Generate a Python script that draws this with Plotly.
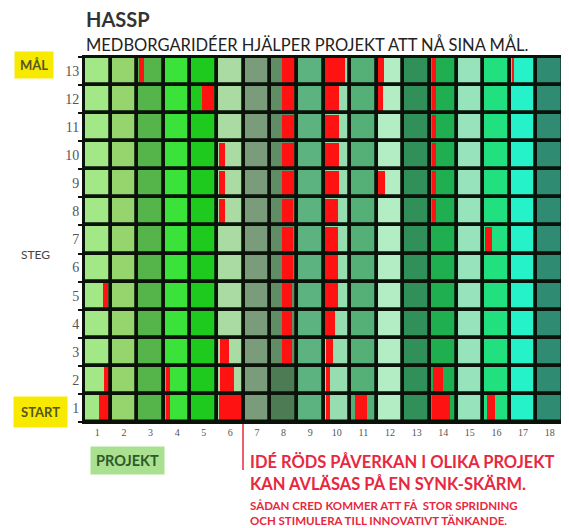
import plotly.graph_objects as go

# ---------------- data ----------------
projects = list(range(1, 19))
steps = list(range(1, 14))
project_labels = [str(p) for p in projects]
step_labels = [str(s) for s in steps]

project_colors = ["#a3e887", "#96d46e", "#55b54a", "#3ae23a", "#1fca1f", "#a9dba2",
                  "#7a9c7a", "#608c66", "#5cb380", "#96deb0", "#55b078", "#b3edc4",
                  "#318f5a", "#1fae50", "#97e3bb", "#20e07f", "#25f2c9", "#2f8b72"]
override_project = [8, 8]
override_step = [1, 2]
override_color = ["#4d7b54", "#4d7b54"]

# red idea influence inside a cell: project, step, start / end fraction of cell width
red_project = [1, 1, 1, 3, 4, 4, 5, 6, 6, 6, 6, 6, 6,
               8, 8, 8, 8, 8, 8, 8, 8, 8, 8, 8,
               10, 10, 10, 10, 10, 10, 10, 10, 10, 10, 10, 10, 10,
               11, 12, 12, 12,
               14, 14, 14, 14, 14, 14, 14, 14,
               16, 16, 17]
red_step = [1, 2, 5, 13, 1, 2, 12, 1, 2, 3, 8, 9, 10,
            3, 4, 5, 6, 7, 8, 9, 10, 11, 12, 13,
            1, 2, 3, 4, 5, 6, 7, 8, 9, 10, 11, 12, 13,
            1, 9, 12, 13,
            1, 2, 8, 9, 10, 11, 12, 13,
            1, 7, 13]
red_start = [0.58, 0.75, 0.73, 0.05, 0.03, 0.0, 0.45, 0.05, 0.10, 0.10, 0.0, 0.0, 0.0,
             0.45, 0.45, 0.45, 0.45, 0.45, 0.45, 0.45, 0.45, 0.45, 0.45, 0.45,
             0.08, 0.08, 0.08, 0.06, 0.06, 0.05, 0.06, 0.05, 0.05, 0.05, 0.05, 0.05, 0.0,
             0.20, 0.05, 0.05, 0.0,
             0.05, 0.10, 0.0, 0.0, 0.0, 0.0, 0.0, 0.0,
             0.15, 0.0, 0.0]
red_end = [0.97, 0.97, 0.92, 0.27, 0.25, 0.25, 0.90, 1.0, 0.62, 0.45, 0.28, 0.28, 0.28,
           0.82, 0.82, 0.82, 0.85, 0.85, 0.85, 0.88, 0.88, 0.88, 0.90, 0.95,
           0.25, 0.25, 0.35, 0.45, 0.55, 0.55, 0.55, 0.55, 0.58, 0.58, 0.58, 0.58, 0.80,
           0.62, 0.30, 0.25, 0.28,
           0.75, 0.48, 0.22, 0.22, 0.22, 0.22, 0.22, 0.22,
           0.45, 0.33, 0.15]

# ---------------- build ----------------
cell_x, cell_base, cell_col = [], [], []
for s in steps:
    for i, p in enumerate(projects):
        c = project_colors[i]
        for op, os_, oc in zip(override_project, override_step, override_color):
            if op == p and os_ == s:
                c = oc
        cell_x.append(p)
        cell_base.append(s - 0.5)
        cell_col.append(c)

INSET = 0.065
rx, rw, rb = [], [], []
for p, s, a, b in zip(red_project, red_step, red_start, red_end):
    a2 = max(a, INSET)
    b2 = min(b, 1 - INSET)
    rx.append(p - 0.5 + (a2 + b2) / 2)
    rw.append(b2 - a2)
    rb.append(s - 0.5 + 0.05)

fig = go.Figure()
fig.add_trace(go.Bar(x=cell_x, y=[1] * len(cell_x), base=cell_base, width=1,
                     marker=dict(color=cell_col, line=dict(width=0)),
                     hoverinfo="skip", showlegend=False))
fig.add_trace(go.Bar(x=rx, y=[0.9] * len(rx), base=rb, width=rw,
                     marker=dict(color="#ff1212", line=dict(width=0)),
                     hoverinfo="skip", showlegend=False))
fig.add_trace(go.Bar(x=cell_x, y=[1] * len(cell_x), base=cell_base, width=1,
                     marker=dict(color="rgba(0,0,0,0)", line=dict(width=3.5, color="#0a120a")),
                     hoverinfo="skip", showlegend=False))

# page has an 8px body margin: work in reference pixels, shift by OFF
OFF = 8
W, H = 569 - OFF, 528 - OFF
PL, PR, PT, PB = 84, 563, 57, 422          # plot box in reference pixels
L, R, T, B = PL - OFF, W - (PR - OFF), PT - OFF, H - (PB - OFF)
PW, PH = W - L - R, H - T - B

step_edges = [s - 0.5 for s in steps] + [steps[-1] + 0.5]

fig.update_layout(
    width=W, height=H, barmode="overlay", bargap=0,
    margin=dict(l=L, r=R, t=T, b=B, autoexpand=False),
    paper_bgcolor="white", plot_bgcolor="white",
    xaxis=dict(range=[0.5, 18.5], tickvals=projects, ticktext=project_labels, automargin=False,
               showgrid=False, zeroline=False, showline=True, linewidth=2, linecolor="#0a120a",
               mirror=True, ticks="",
               tickfont=dict(family="Liberation Serif", size=10, color="#555")),
    yaxis=dict(range=[0.5, 13.5], tickvals=steps, ticktext=step_labels, automargin=False,
               showgrid=False, zeroline=False, showline=True, linewidth=2, linecolor="#0a120a",
               mirror=True, ticks="",
               minor=dict(tickvals=step_edges, ticks="outside", ticklen=4, tickwidth=2,
                          tickcolor="#0a120a", showgrid=False),
               tickfont=dict(family="Liberation Serif", size=14, color="#555")),
)

def px_x(v):
    return (v - OFF - L) / PW

def px_y(v):
    return (H - B - (v - OFF)) / PH

ann = []
ann.append(dict(text="<b>HASSP</b>", x=px_x(84), y=px_y(19), xanchor="left", yanchor="middle",
                font=dict(family="Lato", size=20, color="#333")))
ann.append(dict(text="MEDBORGARIDÉER HJÄLPER PROJEKT ATT NÅ SINA MÅL.", x=px_x(84), y=px_y(45),
                xanchor="left", yanchor="middle",
                font=dict(family="Lato", size=16.5, color="#222")))
ann.append(dict(text="<b>MÅL</b>", x=px_x(34), y=px_y(65), xanchor="center", yanchor="middle",
                bgcolor="#f7ea00", borderpad=5, font=dict(family="Lato", size=13, color="#555522")))
ann.append(dict(text="STEG", x=px_x(35), y=px_y(254), xanchor="center", yanchor="middle",
                font=dict(family="Lato", size=12, color="#444")))
ann.append(dict(text="<b>START</b>", x=px_x(40), y=px_y(412), xanchor="center", yanchor="middle",
                bgcolor="#f7ea00", borderpad=7, font=dict(family="Lato", size=13, color="#555522")))
ann.append(dict(text="<b>PROJEKT</b>", x=px_x(127), y=px_y(460), xanchor="center", yanchor="middle",
                bgcolor="#a9e190", borderpad=5, font=dict(family="Lato", size=14.5, color="#2f5a2a")))
red = "#e8283e"
ann.append(dict(text="<b>IDÉ RÖDS PÅVERKAN I OLIKA PROJEKT</b>", x=px_x(248), y=px_y(462),
                xanchor="left", yanchor="middle", font=dict(family="Lato", size=16.5, color=red)))
ann.append(dict(text="<b>KAN AVLÄSAS PÅ EN SYNK-SKÄRM.</b>", x=px_x(248), y=px_y(484),
                xanchor="left", yanchor="middle", font=dict(family="Lato", size=16.5, color=red)))
ann.append(dict(text="<b>SÅDAN CRED KOMMER ATT FÅ  STOR SPRIDNING</b>", x=px_x(248), y=px_y(505),
                xanchor="left", yanchor="middle", font=dict(family="Lato", size=11.5, color=red)))
ann.append(dict(text="<b>OCH STIMULERA TILL INNOVATIVT TÄNKANDE.</b>", x=px_x(248), y=px_y(520),
                xanchor="left", yanchor="middle", font=dict(family="Lato", size=11.5, color=red)))
for a in ann:
    a.update(xref="paper", yref="paper", showarrow=False)
fig.update_layout(annotations=ann)

fig.add_shape(type="line", xref="paper", yref="paper",
              x0=px_x(243), x1=px_x(243), y0=px_y(424), y1=px_y(470),
              line=dict(color=red, width=1.5))

fig.write_html("out.html")
